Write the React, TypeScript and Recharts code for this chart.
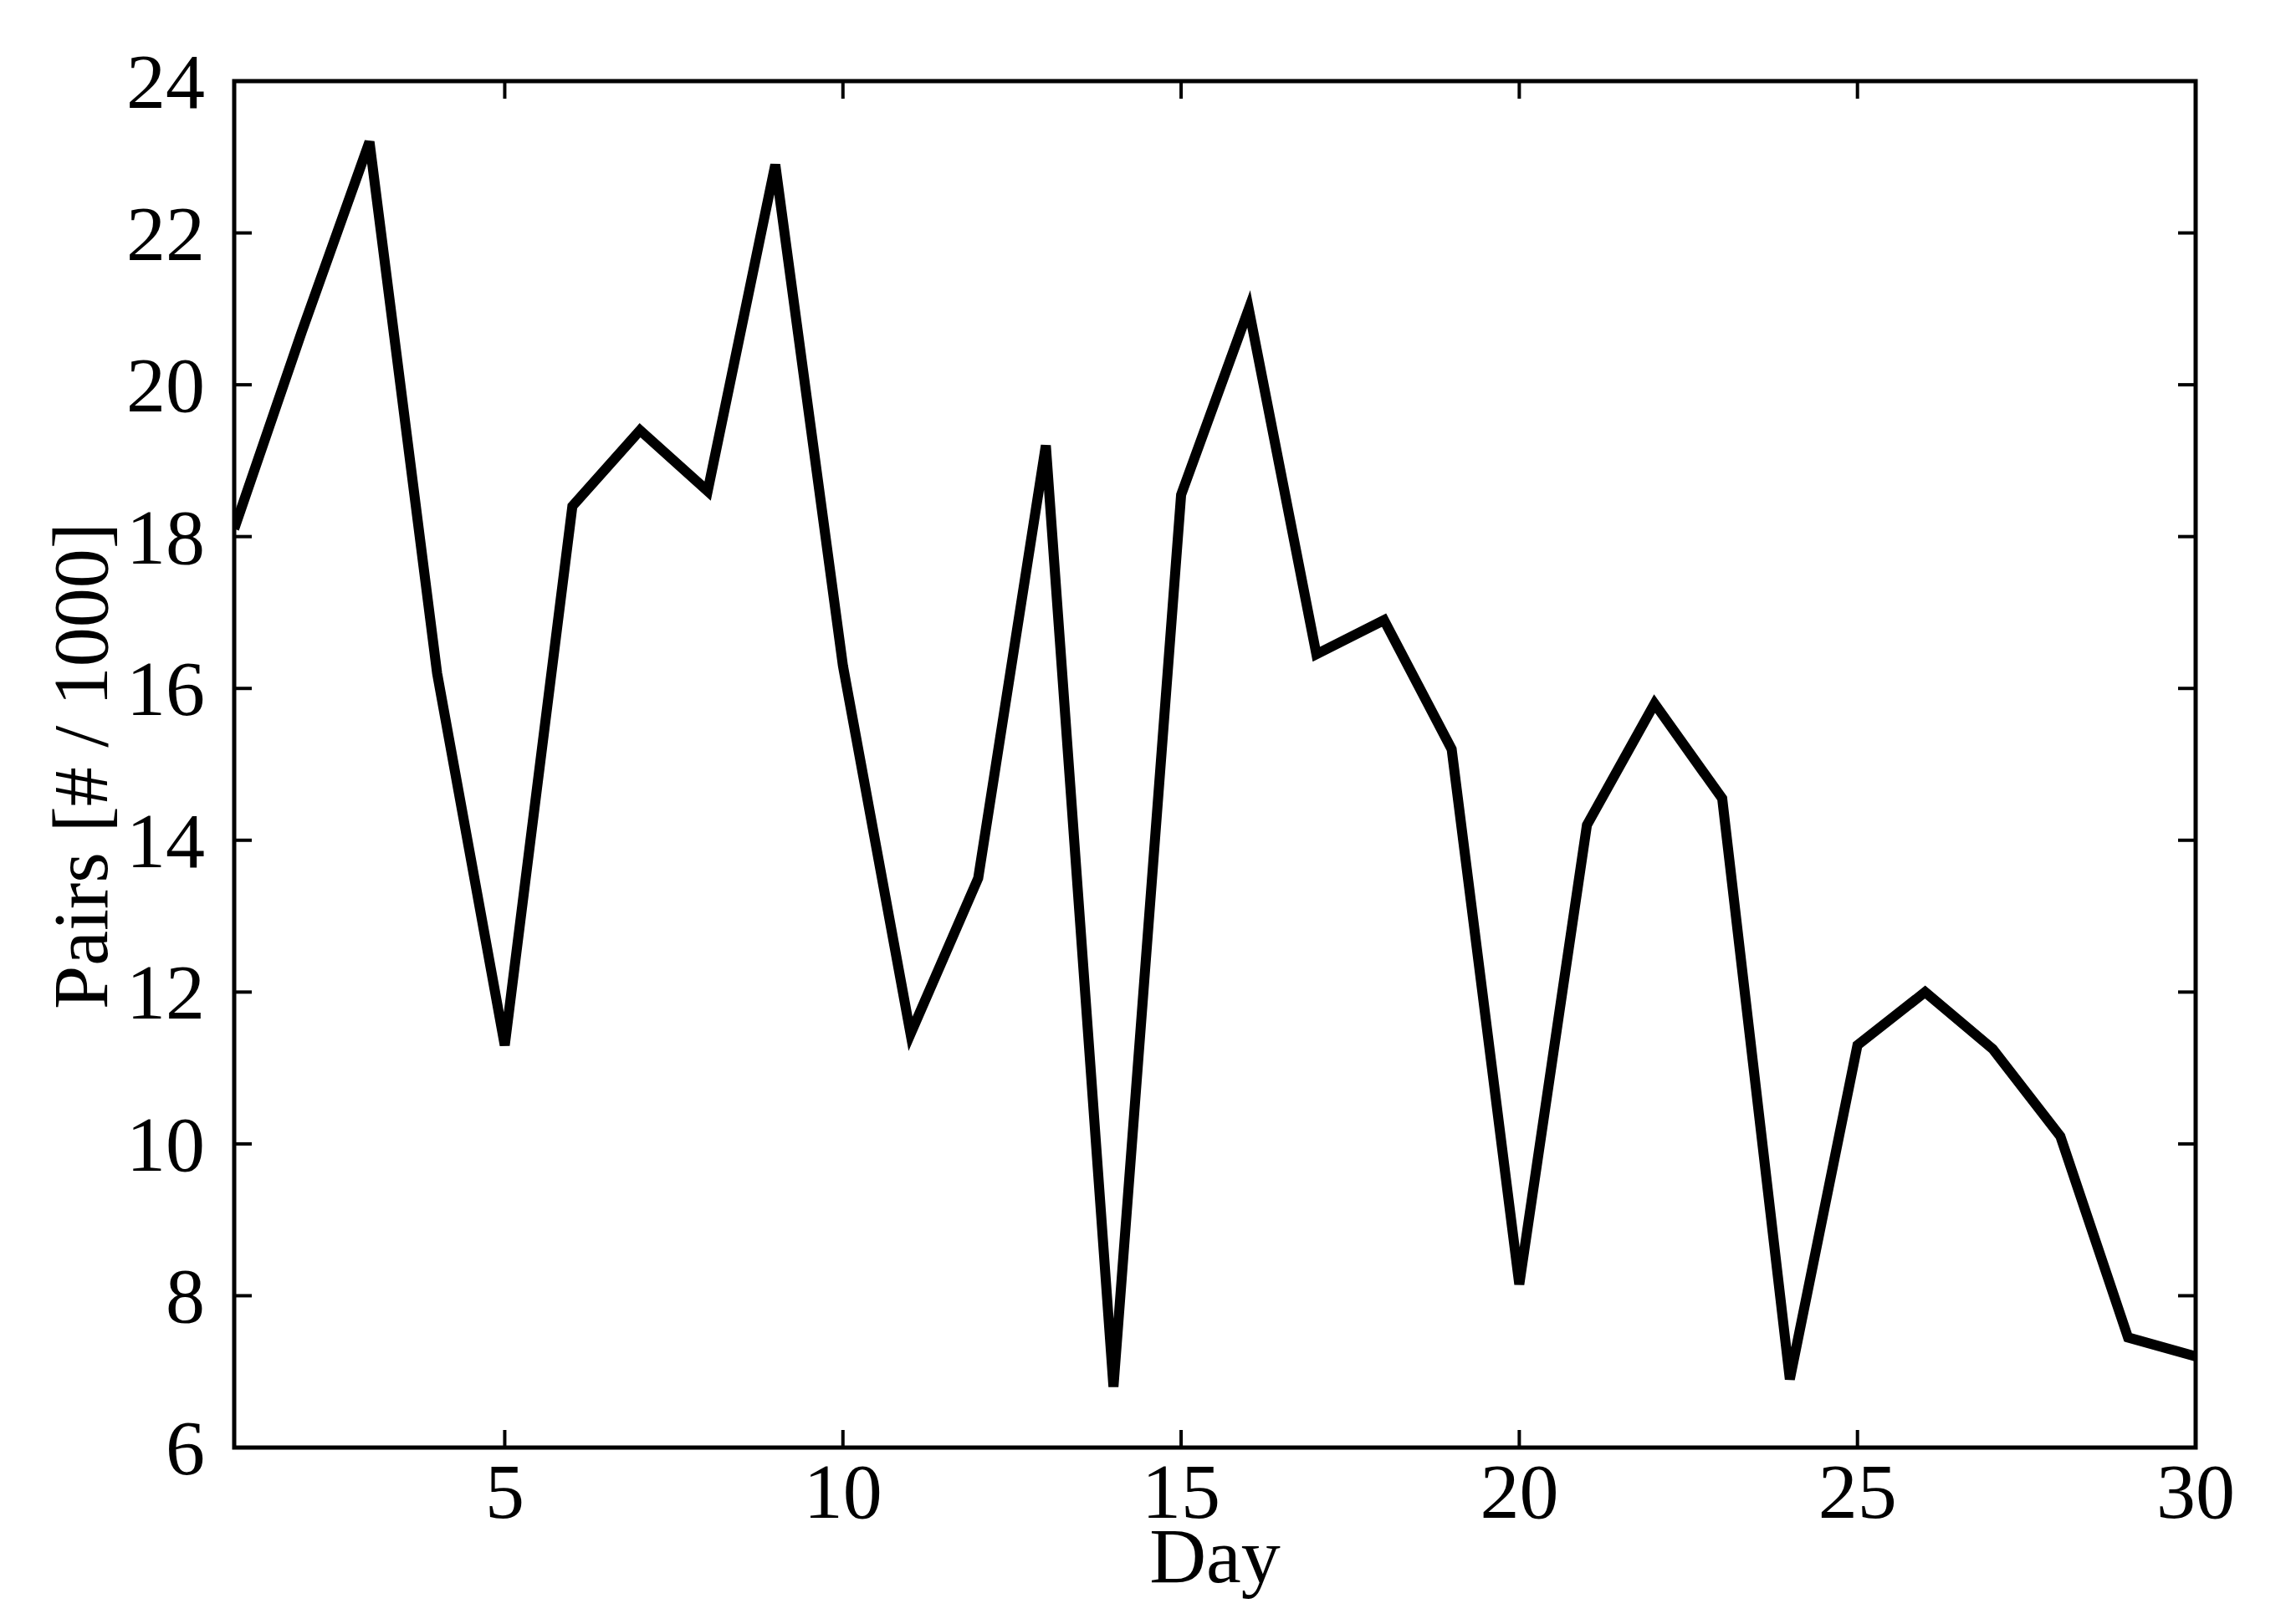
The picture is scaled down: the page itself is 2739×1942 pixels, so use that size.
import React from 'react';
import { LineChart, Line, XAxis, YAxis, ReferenceArea, Label } from 'recharts';

const days = [
  1, 2, 3, 4, 5, 6, 7, 8, 9, 10, 11, 12, 13, 14, 15,
  16, 17, 18, 19, 20, 21, 22, 23, 24, 25, 26, 27, 28, 29, 30,
];
const pairs = [
  18.1, 20.7, 23.2, 16.2, 11.3, 18.4, 19.4, 18.6, 22.9, 16.3, 11.45, 13.5, 19.2, 6.8, 18.55,
  21.0, 16.45, 16.9, 15.2, 8.15, 14.2, 15.8, 14.55, 6.9, 11.3, 12.0, 11.25, 10.1, 7.45, 7.2,
];
const xTicks = [5, 10, 15, 20, 25, 30];
const yTicks = [6, 8, 10, 12, 14, 16, 18, 20, 22, 24];

const FONT = '"Liberation Serif", "Times New Roman", serif';
const FS = 94;
const TICK_LEN = 21;

// plot frame edges
const PL = 280;
const PT = 97;
const PR = 2625;
const PB = 1731;

const data = days.map((d, i) => ({ day: d, pairs: pairs[i] }));

function XTick({ x, payload }: any) {
  return (
    <g>
      <line x1={x} x2={x} y1={PB} y2={PB - TICK_LEN} stroke="#000" strokeWidth={4} />
      <line x1={x} x2={x} y1={PT} y2={PT + TICK_LEN} stroke="#000" strokeWidth={4} />
      <text x={x} y={PB + 84} textAnchor="middle" fontSize={FS} fontFamily={FONT} fill="#000">
        {payload.value}
      </text>
    </g>
  );
}

function YTick({ y, payload }: any) {
  return (
    <g>
      <line x1={PL} x2={PL + TICK_LEN} y1={y} y2={y} stroke="#000" strokeWidth={4} />
      <line x1={PR} x2={PR - TICK_LEN} y1={y} y2={y} stroke="#000" strokeWidth={4} />
      <text x={245} y={y + 32} textAnchor="end" fontSize={FS} fontFamily={FONT} fill="#000">
        {payload.value}
      </text>
    </g>
  );
}

export default function App() {
  return (
    <div style={{ position: 'absolute', left: 0, top: 0, width: 2739, height: 1942, background: '#fff' }}>
      <LineChart
        width={2739}
        height={1942}
        data={data}
        margin={{ top: PT, right: 2739 - PR, bottom: 0, left: 0 }}
      >
        <XAxis
          dataKey="day"
          type="number"
          domain={[1, 30]}
          ticks={xTicks}
          allowDataOverflow
          height={1942 - PB}
          tickSize={0}
          tickMargin={0}
          tick={<XTick />}
          axisLine={false}
          tickLine={false}
        >
          <Label
            content={() => (
              <text x={(PL + PR) / 2} y={1892} textAnchor="middle" fontSize={FS} fontFamily={FONT} fill="#000">
                Day
              </text>
            )}
          />
        </XAxis>
        <YAxis
          type="number"
          domain={[6, 24]}
          ticks={yTicks}
          allowDataOverflow
          width={PL}
          tickSize={0}
          tickMargin={0}
          tick={<YTick />}
          axisLine={false}
          tickLine={false}
        >
          <Label
            content={() => (
              <text
                x={128}
                y={916}
                textAnchor="middle"
                fontSize={FS}
                fontFamily={FONT}
                fill="#000"
                transform="rotate(-90, 128, 916)"
              >
                Pairs [# / 1000]
              </text>
            )}
          />
        </YAxis>
        <ReferenceArea
          x1={1}
          x2={30}
          y1={6}
          y2={24}
          fill="none"
          fillOpacity={0}
          stroke="#000"
          strokeWidth={5}
          ifOverflow="visible"
        />
        <Line
          type="linear"
          dataKey="pairs"
          stroke="#000"
          strokeWidth={12}
          dot={false}
          activeDot={false}
          isAnimationActive={false}
        />
      </LineChart>
    </div>
  );
}
